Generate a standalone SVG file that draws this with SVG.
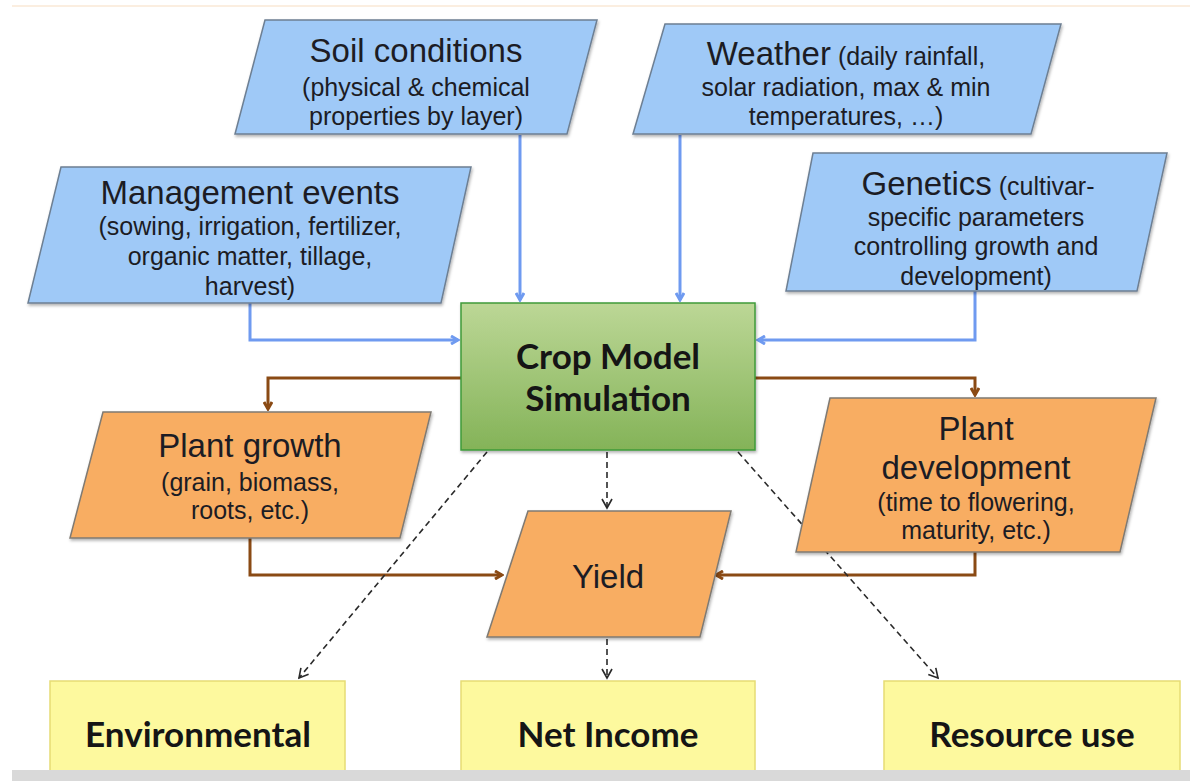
<svg xmlns="http://www.w3.org/2000/svg" width="1190" height="781" viewBox="0 0 1190 781">
  <defs>
    <linearGradient id="greenFill" x1="0" y1="0" x2="0" y2="1">
      <stop offset="0" stop-color="#bcd796"/>
      <stop offset="1" stop-color="#84b358"/>
    </linearGradient>
    <filter id="shadow" x="-10%" y="-10%" width="120%" height="130%">
      <feDropShadow dx="1" dy="2" stdDeviation="1.5" flood-color="#000" flood-opacity="0.3"/>
    </filter>
    <marker id="arrowBlue" markerWidth="10" markerHeight="10" refX="8" refY="5" orient="auto" markerUnits="userSpaceOnUse">
      <path d="M1,1 L8,5 L1,9" fill="none" stroke="#6f9af0" stroke-width="3"/>
    </marker>
    <marker id="arrowBrown" markerWidth="10" markerHeight="10" refX="8" refY="5" orient="auto" markerUnits="userSpaceOnUse">
      <path d="M1,1 L8,5 L1,9" fill="none" stroke="#8a4a14" stroke-width="3"/>
    </marker>
    <marker id="arrowDash" markerWidth="12" markerHeight="12" refX="10" refY="6" orient="auto" markerUnits="userSpaceOnUse">
      <path d="M1,1 L10,6 L1,11" fill="none" stroke="#2a2a2a" stroke-width="1.6"/>
    </marker>
  </defs>
  <style>
    .input { fill: #9fc9f7; stroke: #6d7f93; stroke-width: 1.5; filter: url(#shadow); }
    .output { fill: #f8ad62; stroke: #7f7a73; stroke-width: 1.5; filter: url(#shadow); }
    .result { fill: #fdf99e; stroke: #e6dc74; stroke-width: 1.5; }
    .core { fill: url(#greenFill); stroke: #3f9a3a; stroke-width: 1.5; filter: url(#shadow); }
    .t { font-family: "Liberation Sans", Arial, sans-serif; fill: #1c1c24; text-anchor: middle; }
    .big { font-size: 33px; }
    .small { font-size: 25px; }
    .bold { font-family: Lato, "Open Sans", sans-serif; font-weight: bold; font-size: 35px; fill: #151515; text-anchor: middle; }
    .blue { fill: none; stroke: #6f9af0; stroke-width: 3; marker-end: url(#arrowBlue); }
    .brown { fill: none; stroke: #8a4a14; stroke-width: 3; marker-end: url(#arrowBrown); }
    .dash { fill: none; stroke: #2a2a2a; stroke-width: 1.6; stroke-dasharray: 6 4; marker-end: url(#arrowDash); }
  </style>

  <rect width="1190" height="781" fill="#ffffff"/>
  <line x1="12" y1="6" x2="1190" y2="6" stroke="#fbeee0" stroke-width="2"/>

  <!-- connectors -->
  <g id="connectors">
    <path class="blue" d="M520,135 V300"/>
    <path class="blue" d="M680,135 V300"/>
    <path class="blue" d="M250,303 V340 H458"/>
    <path class="blue" d="M975,291 V340 H758"/>
    <path class="brown" d="M461,378 H268 V409"/>
    <path class="brown" d="M755,378 H975 V395"/>
    <path class="brown" d="M250,538 V575 H502"/>
    <path class="brown" d="M975,552 V575 H716"/>
    <path class="dash" d="M487,452 L299,678"/>
    <path class="dash" d="M607,452 V508"/>
    <path class="dash" d="M738,452 L938,678"/>
    <path class="dash" d="M607,639 V678"/>
  </g>

  <g id="soil">
    <polygon class="input" points="265,20 597,20 567,134 235,134"/>
    <text class="t big" x="416" y="62">Soil conditions</text>
    <text class="t small" x="416" y="96">(physical &amp; chemical</text>
    <text class="t small" x="416" y="125">properties by layer)</text>
  </g>

  <g id="weather">
    <polygon class="input" points="665,24 1061,24 1031,134 633,134"/>
    <text class="t small" x="846" y="65"><tspan font-size="33">Weather</tspan> (daily rainfall,</text>
    <text class="t small" x="846" y="96">solar radiation, max &amp; min</text>
    <text class="t small" x="846" y="125">temperatures, …)</text>
  </g>

  <g id="management">
    <polygon class="input" points="61,167 471,167 441,303 28,303"/>
    <text class="t big" x="250" y="204">Management events</text>
    <text class="t small" x="250" y="235">(sowing, irrigation, fertilizer,</text>
    <text class="t small" x="250" y="265">organic matter, tillage,</text>
    <text class="t small" x="250" y="295">harvest)</text>
  </g>

  <g id="genetics">
    <polygon class="input" points="813,153 1167,153 1137,291 786,291"/>
    <text class="t small" x="978" y="195"><tspan font-size="33">Genetics</tspan> (cultivar-</text>
    <text class="t small" x="976" y="226">specific parameters</text>
    <text class="t small" x="976" y="255">controlling growth and</text>
    <text class="t small" x="976" y="285">development)</text>
  </g>

  <g id="crop-model">
    <rect class="core" x="461" y="303" width="294" height="147"/>
    <text class="bold" x="608" y="369">Crop Model</text>
    <text class="bold" x="608" y="411">Simulation</text>
  </g>

  <g id="plant-growth">
    <polygon class="output" points="103,412 431,412 400,538 70,538"/>
    <text class="t big" x="250" y="457">Plant growth</text>
    <text class="t small" x="250" y="491">(grain, biomass,</text>
    <text class="t small" x="250" y="519">roots, etc.)</text>
  </g>

  <g id="plant-development">
    <polygon class="output" points="830,398 1156,398 1120,552 796,552"/>
    <text class="t big" x="976" y="440">Plant</text>
    <text class="t big" x="976" y="479">development</text>
    <text class="t small" x="976" y="511">(time to flowering,</text>
    <text class="t small" x="976" y="539">maturity, etc.)</text>
  </g>

  <g id="yield">
    <polygon class="output" points="528,511 731,511 700,637 487,637"/>
    <text class="t big" x="608" y="588">Yield</text>
  </g>

  <g id="environmental">
    <rect class="result" x="50" y="681" width="295" height="100"/>
    <text class="bold" x="198" y="747">Environmental</text>
  </g>

  <g id="net-income">
    <rect class="result" x="461" y="681" width="294" height="100"/>
    <text class="bold" x="608" y="747">Net Income</text>
  </g>

  <g id="resource-use">
    <rect class="result" x="884" y="681" width="296" height="100"/>
    <text class="bold" x="1032" y="747">Resource use</text>
  </g>

  <rect x="12" y="770" width="1178" height="11" fill="#d9d9d9"/>
</svg>
